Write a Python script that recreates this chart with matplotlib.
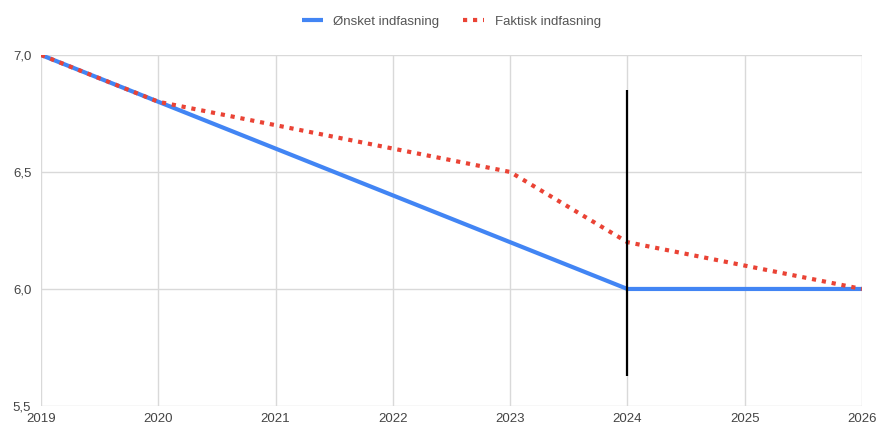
import matplotlib.pyplot as plt
from matplotlib.ticker import FuncFormatter

plt.rcParams['font.family'] = ['Liberation Sans', 'DejaVu Sans']

years = [2019, 2020, 2021, 2022, 2023, 2024, 2025, 2026]
oensket = [7.0, 6.8, 6.6, 6.4, 6.2, 6.0, 6.0, 6.0]
faktisk = [7.0, 6.8, 6.7, 6.6, 6.5, 6.2, 6.1, 6.0]
marker_year = 2024
marker_range = (5.63, 6.85)
y_ticks = [5.5, 6.0, 6.5, 7.0]

fig = plt.figure(figsize=(8.78, 4.26), dpi=100)
ax = fig.add_axes([0.0467, 0.047, 0.935, 0.824])

ax.plot(years, oensket, color="#4285f4", lw=3, solid_capstyle="butt",
        label="Ønsket indfasning", zorder=3)
ax.plot(years, faktisk, color="#ea4335", lw=3, linestyle=(0, (1.0, 1.4)),
        dash_capstyle="butt", label="Faktisk indfasning", zorder=4)
ax.vlines(marker_year, *marker_range, color="black", lw=1.6, zorder=5)

ax.set_xlim(years[0], years[-1])
ax.set_ylim(y_ticks[0], y_ticks[-1])
ax.set_xticks(years)
ax.set_yticks(y_ticks)
ax.yaxis.set_major_formatter(FuncFormatter(lambda v, p: f"{v:.1f}".replace(".", ",")))
ax.grid(True, color="#d9d9d9", lw=1)
ax.set_axisbelow(True)
for s in ax.spines.values():
    s.set_visible(False)
ax.tick_params(length=0, labelsize=9.5, colors="#444444", pad=5)
ax.tick_params(axis="y", pad=7)

ax.legend(loc="center", bbox_to_anchor=(0.5, 1.094), ncol=2, frameon=False,
          fontsize=9.5, handlelength=1.6, columnspacing=1.8, labelcolor="#555555")

fig.savefig("out.png", dpi=100)
